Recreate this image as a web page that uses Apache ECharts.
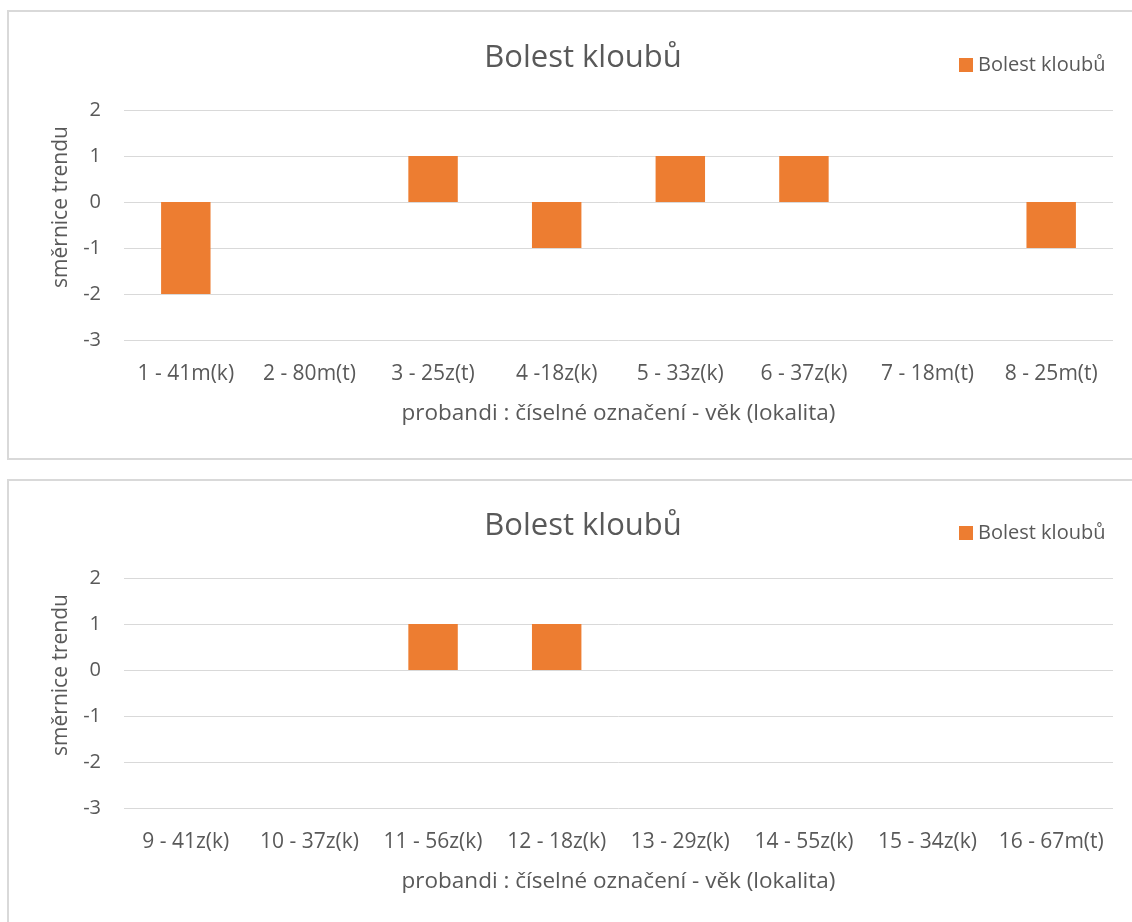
<!DOCTYPE html>
<html>
<head>
<meta charset="utf-8">
<script src="https://cdn.jsdelivr.net/npm/echarts@6/dist/echarts.min.js"></script>
<style>
html,body{margin:0;padding:0;background:#fff;overflow:hidden;}
#c{width:1132px;height:922px;}
</style>
</head>
<body>
<div id="c"></div>
<script>
const chartTitle = 'Bolest kloubů';
const seriesName = 'Bolest kloubů';
const yAxisName = 'směrnice trendu';
const xAxisName = 'probandi : číselné označení - věk (lokalita)';
const categoriesTop = ['1 - 41m(k)', '2 - 80m(t)', '3 - 25z(t)', '4 -18z(k)', '5 - 33z(k)', '6 - 37z(k)', '7 - 18m(t)', '8 - 25m(t)'];
const valuesTop = [-2, 0, 1, -1, 1, 1, 0, -1];
const categoriesBottom = ['9 - 41z(k)', '10 - 37z(k)', '11 - 56z(k)', '12 - 18z(k)', '13 - 29z(k)', '14 - 55z(k)', '15 - 34z(k)', '16 - 67m(t)'];
const valuesBottom = [0, 0, 1, 1, 0, 0, 0, 0];
const yMin = -3, yMax = 2, yStep = 1;

const FONT = '"Open Sans", sans-serif';
const TXT = '#595959';
const GRID = '#d9d9d9';
const BAR = '#ED7D31';
const OFF = 468;

function xAx(idx, cats) {
  return {
    type: 'category', gridIndex: idx, data: cats,
    axisLine: {show: false}, axisTick: {show: false},
    axisLabel: {color: TXT, fontFamily: FONT, fontSize: 21, margin: 24, interval: 0},
    name: xAxisName, nameLocation: 'middle', nameGap: 62,
    nameTextStyle: {color: TXT, fontFamily: FONT, fontSize: 22.5}
  };
}
function yAx(idx) {
  return {
    type: 'value', gridIndex: idx, min: yMin, max: yMax, interval: yStep,
    axisLine: {show: false}, axisTick: {show: false},
    axisLabel: {color: TXT, fontFamily: FONT, fontSize: 20, margin: 23},
    splitLine: {show: true, lineStyle: {color: GRID, width: 1}},
    name: yAxisName, nameLocation: 'middle', nameGap: 52,
    nameTextStyle: {color: TXT, fontFamily: FONT, fontSize: 21, padding: [0, 0, 0, 36]}
  };
}

const chart = echarts.init(document.getElementById('c'), null, {renderer: 'canvas'});
chart.setOption({
  animation: false,
  backgroundColor: '#fff',
  graphic: [
    {type: 'rect', shape: {x: 8, y: 11, width: 1140, height: 448}, style: {fill: 'none', stroke: GRID, lineWidth: 2}, z: -1},
    {type: 'rect', shape: {x: 8, y: 480, width: 1140, height: 460}, style: {fill: 'none', stroke: GRID, lineWidth: 2}, z: -1}
  ],
  title: [
    {text: chartTitle, left: 578, top: 38, textAlign: 'center', textStyle: {color: TXT, fontFamily: FONT, fontSize: 31, fontWeight: 'normal'}},
    {text: chartTitle, left: 578, top: 38 + OFF, textAlign: 'center', textStyle: {color: TXT, fontFamily: FONT, fontSize: 31, fontWeight: 'normal'}}
  ],
  legend: [
    {data: [seriesName], left: 954, top: 50, itemWidth: 14, itemHeight: 14, icon: 'rect', textStyle: {color: TXT, fontFamily: FONT, fontSize: 20}},
    {data: [seriesName + ' '], left: 954, top: 50 + OFF, itemWidth: 14, itemHeight: 14, icon: 'rect', textStyle: {color: TXT, fontFamily: FONT, fontSize: 20}, formatter: n => n.trim()}
  ],
  grid: [
    {left: 124, right: 19, top: 110, height: 230, containLabel: false},
    {left: 124, right: 19, top: 110 + OFF, height: 230, containLabel: false}
  ],
  xAxis: [xAx(0, categoriesTop), xAx(1, categoriesBottom)],
  yAxis: [yAx(0), yAx(1)],
  series: [
    {name: seriesName, type: 'bar', xAxisIndex: 0, yAxisIndex: 0, data: valuesTop, barWidth: '40%', itemStyle: {color: BAR}},
    {name: seriesName + ' ', type: 'bar', xAxisIndex: 1, yAxisIndex: 1, data: valuesBottom, barWidth: '40%', itemStyle: {color: BAR}}
  ]
});
</script>
</body>
</html>
